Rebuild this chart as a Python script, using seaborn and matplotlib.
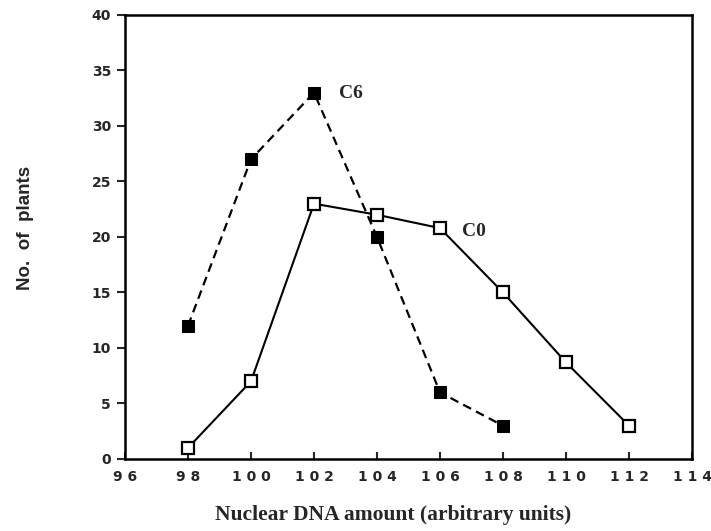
import matplotlib
matplotlib.use("Agg")
import matplotlib.pyplot as plt
import seaborn as sns
import pandas as pd

x_c6 = [98, 100, 102, 104, 106, 108]
y_c6 = [12, 27, 33, 20, 6, 3]
x_c0 = [98, 100, 102, 104, 106, 108, 110, 112]
y_c0 = [1, 7, 23, 22, 20.8, 15, 8.7, 3]
x_ticks = [96, 98, 100, 102, 104, 106, 108, 110, 112, 114]
y_ticks = [0, 5, 10, 15, 20, 25, 30, 35, 40]

sns.set_style("white")
plt.rcParams['font.family'] = ['Liberation Serif', 'DejaVu Sans']

fig = plt.figure(figsize=(7.11, 5.31), dpi=100)
ax = fig.add_axes([0.1758, 0.1356, 0.7975, 0.8362])

df6 = pd.DataFrame({"x": x_c6, "y": y_c6})
df0 = pd.DataFrame({"x": x_c0, "y": y_c0})

sns.lineplot(data=df6, x="x", y="y", ax=ax, color="black", linestyle=(0, (4, 2.5)),
             linewidth=1.6, marker="s", markersize=9, markerfacecolor="black",
             markeredgecolor="black")
sns.lineplot(data=df0, x="x", y="y", ax=ax, color="black", linewidth=1.5,
             marker="s", markersize=9, markerfacecolor="white",
             markeredgecolor="black", markeredgewidth=1.6)

ax.text(102.8, 32.9, "C6", fontsize=14, fontweight="bold", va="center", ha="left")
ax.text(106.7, 20.5, "C0", fontsize=14, fontweight="bold", va="center", ha="left")

ax.set_xlim(96, 114)
ax.set_ylim(0, 40)
ax.set_xticks(x_ticks)
ax.set_yticks(y_ticks)
ax.set_xticklabels([" ".join(str(t)) for t in x_ticks], family="DejaVu Sans",
                   fontweight="bold", fontsize=10)
ax.set_yticklabels([str(t) for t in y_ticks], family="DejaVu Sans",
                   fontweight="bold", fontsize=10)
ax.tick_params(axis="x", direction="in", length=5, width=1.5, pad=8, bottom=True)
ax.tick_params(axis="y", direction="out", length=6, width=1.5, pad=4, left=True)
for s in ax.spines.values():
    s.set_linewidth(1.8)
    s.set_color("black")

ax.set_xlabel("")
ax.set_ylabel("")
fig.text(393 / 711, 1 - 515 / 531, "Nuclear DNA amount (arbitrary units)",
         fontsize=15.5, fontweight="bold", ha="center", va="center")
fig.text(25 / 711, 1 - 228 / 531, "No.  of  plants", family="Liberation Sans",
         fontsize=13.5, fontweight="bold", ha="center", va="center", rotation=90)

fig.savefig("out.png", dpi=100)
